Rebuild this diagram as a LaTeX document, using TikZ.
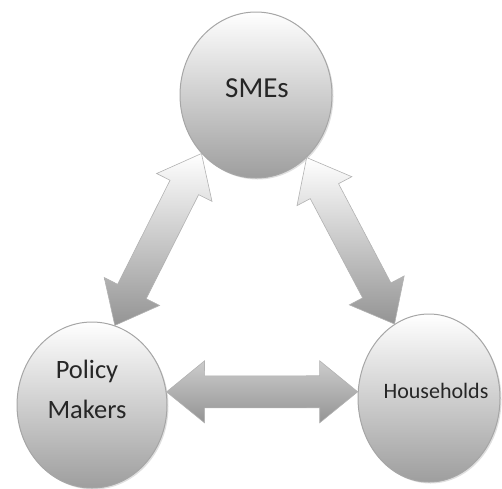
\documentclass[tikz,border=0pt]{standalone}
\usepackage{fontspec}
\setmainfont{Carlito}
\usetikzlibrary{shapes,shapes.geometric,calc,positioning,shadows}

\newcommand{\dblarrow}[3]{%
\draw[blockarrow,#3] (#1)
 -- ($($(#1)!38pt!(#2)$)!31pt!90:(#2)$)
 -- ($($(#1)!38pt!(#2)$)!16pt!90:(#2)$)
 -- ($($(#2)!38pt!(#1)$)!16pt!-90:(#1)$)
 -- ($($(#2)!38pt!(#1)$)!31pt!-90:(#1)$)
 -- (#2)
 -- ($($(#2)!38pt!(#1)$)!31pt!90:(#1)$)
 -- ($($(#2)!38pt!(#1)$)!16pt!90:(#1)$)
 -- ($($(#1)!38pt!(#2)$)!16pt!-90:(#2)$)
 -- ($($(#1)!38pt!(#2)$)!31pt!-90:(#2)$)
 -- cycle;}

\begin{document}
\begin{tikzpicture}
[x=1pt,y=-1pt,
ball/.style={shape=ellipse,draw=black!35,line width=1pt,inner sep=0pt,
	top color=white,bottom color=black!38,
	drop shadow={opacity=0.25,shadow xshift=1.5pt,shadow yshift=-1.5pt}},
txt/.style={text=black!85,align=center,inner sep=0pt},
blockarrow/.style={draw=black!30,line width=0.6pt,line join=miter}]
\useasboundingbox (0,0) rectangle (502,488);
\node[ball,minimum width=152pt,minimum height=166pt] (sme) at (256,95) {};
\node[ball,minimum width=150pt,minimum height=166pt] (pm) at (92,405) {};
\node[ball,minimum width=142pt,minimum height=168pt] (hh) at (429,398) {};
\node[txt,font=\fontsize{29}{35}\selectfont] (smet) at (257,88) {SMEs};
\node[txt,font=\fontsize{26.5}{40}\selectfont] (pmt) at (87,389) {Policy\\Makers};
\node[txt,font=\fontsize{22}{26}\selectfont] (hht) at (436,391) {Households};
% two-way flows
\dblarrow{sme.227}{pm.74}{top color=white,bottom color=black!42}
\dblarrow{sme.309}{hh.115}{top color=white,bottom color=black!42}
\dblarrow{pm.10}{hh.175}{top color=black!20,middle color=black!4,bottom color=black!42}
\end{tikzpicture}
\end{document}
